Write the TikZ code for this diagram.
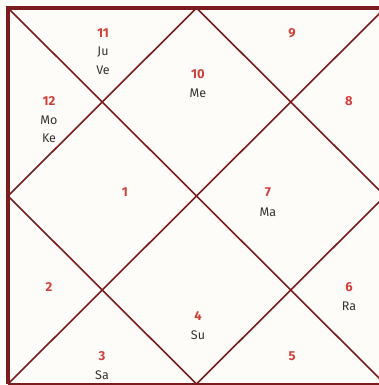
\documentclass[tikz,border=0pt]{standalone}
\usepackage{fontspec}
\setmainfont{Fira Sans}
\definecolor{chartline}{HTML}{7A1C1E}
\definecolor{bgc}{HTML}{FDFCF8}
\definecolor{numc}{HTML}{D2403A}
\definecolor{plc}{HTML}{333333}
\begin{document}
\begin{tikzpicture}[x=1pt,y=-1pt,
  house/.style={text=numc,font=\fontsize{13}{14}\selectfont\bfseries,inner sep=0pt},
  planet/.style={text=plc,font=\fontsize{12.5}{14}\selectfont,inner sep=0pt},
  inner/.style={draw=chartline,line width=1.6pt},
  outer/.style={draw=chartline,line width=3.2pt}]
\useasboundingbox (0,0) rectangle (379,385);
\fill[bgc] (0,0) rectangle (379,385);
\begin{scope}
\clip (0,0) rectangle (379,385);
\coordinate (TL) at (8,8);
\coordinate (TR) at (385,8);
\coordinate (BL) at (8,384);
\coordinate (BR) at (385,384);
\coordinate (T) at (196.5,8);
\coordinate (B) at (196.5,384);
\coordinate (L) at (8,196);
\coordinate (R) at (385,196);
\draw[inner] (TL) -- (BR);
\draw[inner] (TR) -- (BL);
\draw[inner] (T) -- (R) -- (B) -- (L) -- cycle;
\draw[outer] (BL) -- (TL) -- (TR);
\draw[chartline,line width=2.2pt] (BL) -- (BR);
\end{scope}
\node[house] (h11) at (103,33) {11};
\node[planet] (ju) at (103,52) {Ju};
\node[planet] (ve) at (103,70) {Ve};
\node[house] (h10) at (198,74) {10};
\node[planet] (me) at (198,93) {Me};
\node[house] (h9) at (292,33) {9};
\node[house] (h12) at (49,101) {12};
\node[planet] (mo) at (49,120) {Mo};
\node[planet] (ke) at (49,138) {Ke};
\node[house] (h8) at (349,101) {8};
\node[house] (h1) at (125,192) {1};
\node[house] (h7) at (268,192) {7};
\node[planet] (ma) at (268,212) {Ma};
\node[house] (h2) at (49,287) {2};
\node[house] (h6) at (349,287) {6};
\node[planet] (ra) at (349,306) {Ra};
\node[house] (h4) at (198,316) {4};
\node[planet] (su) at (198,335) {Su};
\node[house] (h3) at (102,356) {3};
\node[planet] (sa) at (102,375) {Sa};
\node[house] (h5) at (292,356) {5};
\end{tikzpicture}
\end{document}
